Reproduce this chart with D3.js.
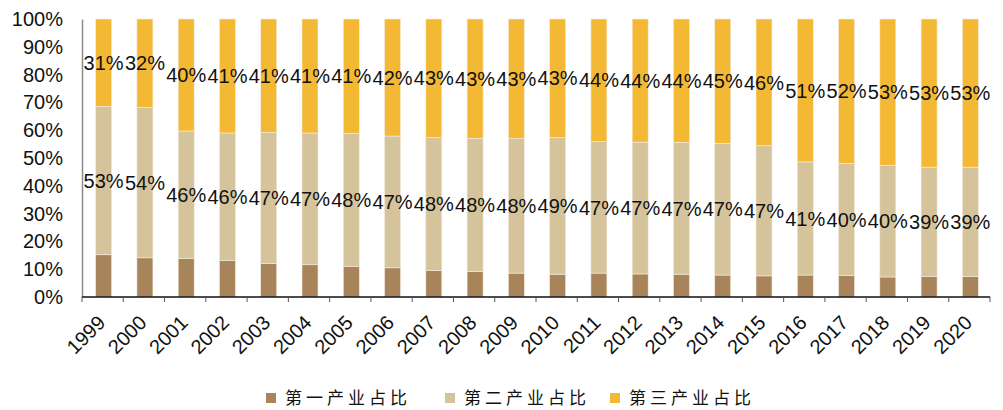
<!DOCTYPE html>
<html>
<head>
<meta charset="utf-8">
<script src="https://cdn.jsdelivr.net/npm/d3@7"></script>
<style>
  html, body { margin: 0; padding: 0; background: #fff; }
  svg { display: block; }
</style>
</head>
<body>
<svg id="chart" width="1003" height="410"></svg>
<script>
// Industry structure by year (share of GDP, %)
const years = ["1999","2000","2001","2002","2003","2004","2005","2006","2007","2008","2009",
               "2010","2011","2012","2013","2014","2015","2016","2017","2018","2019","2020"];
const primaryShare   = [15.2,14.1,13.8,13.1,12.0,11.6,10.9,10.5, 9.5, 9.1, 8.6, 8.2, 8.6, 8.3, 8.2, 7.9, 7.6, 7.9, 7.7, 7.2, 7.3, 7.3];
const secondaryShare = [53.4,54.1,45.9,45.9,47.2,47.4,48.0,47.4,47.9,48.0,48.4,49.2,47.3,47.4,47.4,47.4,46.8,40.7,40.4,40.2,39.4,39.4];
const tertiaryShare  = [31.4,31.8,40.3,41.0,40.8,41.0,41.1,42.1,42.6,42.9,43.0,42.6,44.1,44.3,44.4,44.7,45.6,51.4,51.9,52.6,53.3,53.3];
const seriesNames = ["第一产业占比", "第二产业占比", "第三产业占比"];
const yTicks = [0,10,20,30,40,50,60,70,80,90,100];

const colors = ["#A8845A", "#D5C49B", "#F4B934"];
const FONT = "'Liberation Sans', Arial, sans-serif";

const svg = d3.select("#chart");
const plot = { left: 82, right: 990, top: 19, bottom: 297 };

const rows = years.map((yr, i) => ({
  year: yr, p1: primaryShare[i], p2: secondaryShare[i], p3: tertiaryShare[i]
}));
const keys = ["p1", "p2", "p3"];
const stacked = d3.stack().keys(keys)(rows);

const x = d3.scaleBand().domain(years).range([plot.left, plot.right]).paddingInner(0).paddingOuter(0);
const y = d3.scaleLinear().domain([0, 100]).range([plot.bottom, plot.top]);
const barW = 16;

// stacked bars
const layers = svg.append("g").selectAll("g").data(stacked).join("g")
  .attr("fill", (d, i) => colors[i]);
layers.selectAll("rect").data(d => d).join("rect")
  .attr("x", d => x(d.data.year) + x.bandwidth() / 2 - barW / 2 + 1)
  .attr("width", barW)
  .attr("y", d => y(d[1]))
  .attr("height", d => y(d[0]) - y(d[1]))
  .attr("stroke", "#f3ece0")
  .attr("stroke-width", 0.6);

// value labels for secondary and tertiary shares
stacked.forEach((layer, li) => {
  if (li === 0) return;
  svg.append("g").selectAll("text").data(layer).join("text")
    .attr("x", d => x(d.data.year) + x.bandwidth() / 2 + 1)
    .attr("y", d => y((d[0] + d[1]) / 2))
    .attr("dy", "0.36em")
    .attr("text-anchor", "middle")
    .attr("font-family", FONT)
    .attr("font-size", 20)
    .attr("fill", "#111")
    .text(d => Math.round(d[1] - d[0]) + "%");
});

// y axis
const yAxis = svg.append("g")
  .attr("transform", `translate(${plot.left},0)`)
  .call(d3.axisLeft(y).tickValues(yTicks).tickSize(0).tickPadding(19).tickFormat(d => d + "%"));
yAxis.select(".domain").attr("stroke", "#8a8a8a").attr("stroke-width", 1.5);
yAxis.selectAll("text").attr("font-family", FONT).attr("font-size", 20).attr("fill", "#111");

// x axis with ticks on category boundaries
const xAxis = svg.append("g").attr("transform", `translate(0,${plot.bottom})`);
xAxis.append("line").attr("x1", plot.left).attr("x2", plot.right).attr("stroke", "#111").attr("stroke-width", 1.5);
const bounds = years.map(d => x(d)).concat([plot.right]);
xAxis.selectAll("line.tick").data(bounds).join("line")
  .attr("class", "tick")
  .attr("x1", d => d).attr("x2", d => d)
  .attr("y1", 0).attr("y2", 5)
  .attr("stroke", "#555").attr("stroke-width", 1);
xAxis.selectAll("text").data(years).join("text")
  .attr("transform", d => `translate(${x(d) + x.bandwidth() / 2 - 6},${17}) rotate(-45)`)
  .attr("text-anchor", "end")
  .attr("dy", "0.7em")
  .attr("font-family", FONT)
  .attr("font-size", 20)
  .attr("fill", "#111")
  .text(d => d);

// legend
const legendX = [266, 445, 610];
const legend = svg.append("g");
seriesNames.forEach((name, i) => {
  legend.append("rect")
    .attr("x", legendX[i]).attr("y", 393)
    .attr("width", 10).attr("height", 10)
    .attr("fill", colors[i]);
  legend.append("text")
    .attr("x", legendX[i] + 19).attr("y", 404)
    .attr("font-family", "'Noto Sans CJK SC', sans-serif")
    .attr("font-size", 17)
    .attr("letter-spacing", 4)
    .attr("fill", "#111")
    .text(name);
});
</script>
</body>
</html>
